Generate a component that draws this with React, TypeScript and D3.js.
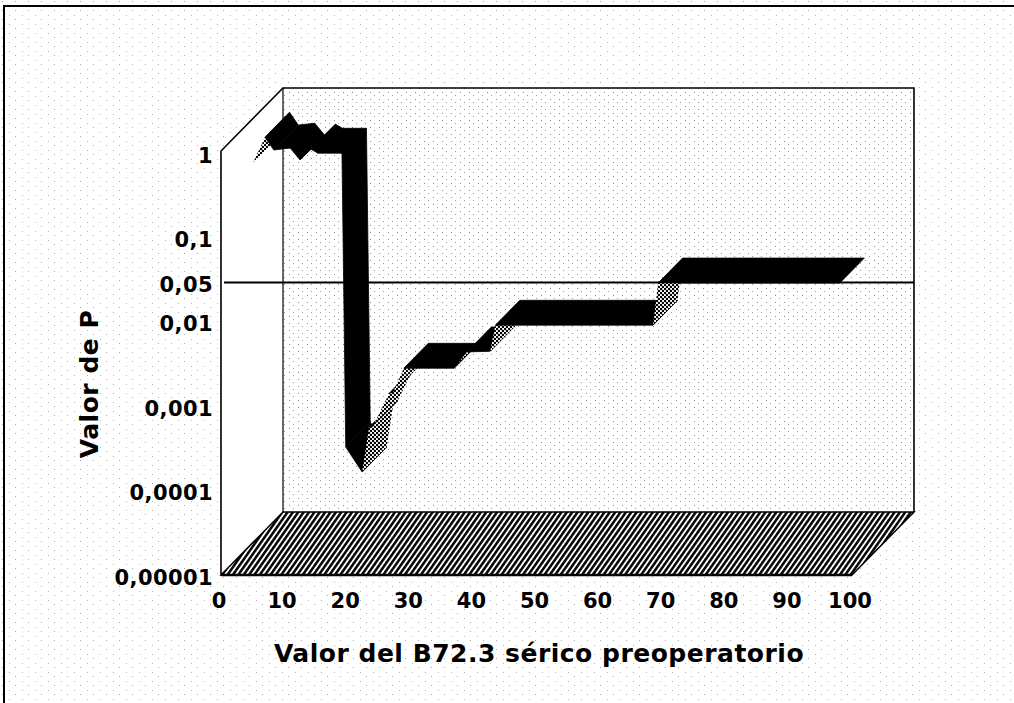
import { useEffect, useRef } from "react";
import * as d3 from "d3";

// B72.3 cut-off (x) and P value (y) read along the ribbon
const B72 = [2.5, 4.4, 5.8, 8.4, 9.95, 11.7, 12.8, 16.6, 17.2, 19.8, 20.9, 21.5, 24.1, 24.7, 26.4, 34.4, 36.4, 40.1, 40.9, 65.9, 66.7, 95.5];
const PVAL = [0.46, 0.93, 0.655, 0.69, 0.5, 0.67, 0.6, 0.6, 0.000198, 0.0001, 0.00034, 0.00035, 0.00086, 0.00088, 0.0017, 0.0017, 0.00265, 0.0027, 0.0055, 0.0055, 0.0174, 0.0174];

const X_TICKS = [0, 10, 20, 30, 40, 50, 60, 70, 80, 90, 100];
const Y_TICKS = [1, 0.1, 0.01, 0.001, 0.0001, 0.00001];
const Y_TICK_LABELS = ["1", "0,1", "0,01", "0,001", "0,0001", "0,00001"];
const REF_P = 0.03;
const REF_LABEL = "0,05";
const X_TITLE = "Valor del B72.3 sérico preoperatorio";
const Y_TITLE = "Valor de P";

const W = 1014, H = 703;
const FONT = "'DejaVu Sans', Verdana, sans-serif";

export default function App() {
  const ref = useRef<SVGSVGElement>(null);

  useEffect(() => {
    const svg = d3.select(ref.current);
    svg.selectAll("*").remove();

    // front plane of the 3D box + depth offset
    const L = 221, R = 852, T = 151, B = 575;
    const D: [number, number] = [62, -63];
    const x = d3.scaleLinear().domain([0, 100]).range([218, 849]);
    const y = d3.scaleLog().domain([1e-5, 1]).range([576, 154]);

    // ribbon sits between 31% and 70.5% of the depth
    const F: [number, number] = [D[0] * 0.31, D[1] * 0.31];
    const RW: [number, number] = [D[0] * 0.395, D[1] * 0.395];

    const defs = svg.append("defs");
    const bg = defs.append("pattern").attr("id", "bgDots").attr("patternUnits", "userSpaceOnUse").attr("width", 13).attr("height", 9);
    bg.append("rect").attr("width", 13).attr("height", 9).attr("fill", "#fff");
    bg.append("rect").attr("x", 2).attr("y", 1).attr("width", 1).attr("height", 1).attr("fill", "#aaa");
    bg.append("rect").attr("x", 9).attr("y", 6).attr("width", 1).attr("height", 1).attr("fill", "#bbb");

    const wd = defs.append("pattern").attr("id", "wallDots").attr("patternUnits", "userSpaceOnUse").attr("width", 9).attr("height", 7);
    wd.append("rect").attr("width", 9).attr("height", 7).attr("fill", "#fff");
    wd.append("rect").attr("x", 1).attr("y", 1).attr("width", 1).attr("height", 1).attr("fill", "#888");
    wd.append("rect").attr("x", 5).attr("y", 4).attr("width", 1).attr("height", 1).attr("fill", "#999");

    const hatch = defs.append("pattern").attr("id", "hatch").attr("patternUnits", "userSpaceOnUse")
      .attr("width", 4.4).attr("height", 10).attr("patternTransform", "rotate(35)");
    hatch.append("rect").attr("width", 4.4).attr("height", 10).attr("fill", "#fff");
    hatch.append("line").attr("x1", 1.3).attr("x2", 1.3).attr("y1", 0).attr("y2", 10).attr("stroke", "#000").attr("stroke-width", 2.5);

    const stip = defs.append("pattern").attr("id", "stip").attr("patternUnits", "userSpaceOnUse").attr("width", 4).attr("height", 4);
    stip.append("rect").attr("width", 4).attr("height", 4).attr("fill", "#fff");
    stip.append("circle").attr("cx", 1).attr("cy", 1).attr("r", 1.25).attr("fill", "#000");
    stip.append("circle").attr("cx", 3).attr("cy", 3).attr("r", 1.25).attr("fill", "#000");

    // page background + frame
    svg.append("rect").attr("width", W).attr("height", H).attr("fill", "url(#bgDots)");
    svg.append("path").attr("d", `M4,${H}L4,6L${W},6`).attr("fill", "none").attr("stroke", "#000").attr("stroke-width", 2);

    // walls
    const BL = L + D[0], BR = R + D[0], BT = T + D[1], BB = B + D[1];
    svg.append("rect").attr("x", BL).attr("y", BT).attr("width", BR - BL).attr("height", BB - BT).attr("fill", "url(#wallDots)");
    svg.append("path").attr("d", `M${L},${T}L${BL},${BT}L${BL},${BB}L${L},${B}Z`).attr("fill", "#fff");
    svg.append("path").attr("d", `M${L},${B}L${BL},${BB}L${BR},${BB}L${R},${B}Z`)
      .attr("fill", "url(#hatch)").attr("stroke", "#000").attr("stroke-width", 1.5);
    svg.append("line").attr("x1", L).attr("x2", R).attr("y1", B).attr("y2", B).attr("stroke", "#000").attr("stroke-width", 2.5);

    const wall = svg.append("g").attr("fill", "none").attr("stroke", "#000").attr("stroke-width", 1.6);
    wall.append("path").attr("d", `M${L},${B}L${L},${T}L${BL},${BT}L${BR},${BT}L${BR},${BB}`);
    wall.append("line").attr("x1", BL).attr("x2", BL).attr("y1", BT).attr("y2", BB).attr("stroke-width", 1.2);

    // reference line
    svg.append("line").attr("x1", L + 3).attr("x2", BR).attr("y1", y(REF_P)).attr("y2", y(REF_P))
      .attr("stroke", "#000").attr("stroke-width", 2);

    // ribbon: one face per segment, dark when its top is seen, stippled when its front is seen
    const pts = B72.map((v, i) => [x(v) + F[0], y(PVAL[i]) + F[1]] as [number, number]);
    const line = d3.line();
    const rib = svg.append("g");
    for (let i = 0; i < pts.length - 1; i++) {
      const a = pts[i], b = pts[i + 1];
      const quad: [number, number][] = [a, b, [b[0] + RW[0], b[1] + RW[1]], [a[0] + RW[0], a[1] + RW[1]]];
      const cross = (b[0] - a[0]) * RW[1] - (b[1] - a[1]) * RW[0];
      const top = cross < 0;
      rib.append("path").attr("d", line(quad) + "Z")
        .attr("fill", top ? "#000" : "url(#stip)")
        .attr("stroke", top ? "#000" : "none").attr("stroke-width", 0.8).attr("stroke-linejoin", "round");
    }

    // y tick labels
    const yl = svg.append("g").attr("font-family", FONT).attr("font-weight", "bold").attr("font-size", 21)
      .attr("letter-spacing", 0.4).attr("text-anchor", "end").attr("fill", "#000");
    Y_TICKS.forEach((t, i) => {
      yl.append("text").attr("x", 213).attr("y", y(t) + 1).attr("dy", "0.36em").text(Y_TICK_LABELS[i]);
    });
    yl.append("text").attr("x", 213).attr("y", y(REF_P) + 2).attr("dy", "0.36em").text(REF_LABEL);

    // x tick labels
    const xl = svg.append("g").attr("font-family", FONT).attr("font-weight", "bold").attr("font-size", 21)
      .attr("text-anchor", "middle").attr("fill", "#000");
    X_TICKS.forEach(t => {
      xl.append("text").attr("x", x(t) + 1).attr("y", 600).attr("dy", "0.36em").text(t);
    });

    // titles
    svg.append("text").attr("x", 539).attr("y", 653).attr("dy", "0.36em").attr("text-anchor", "middle")
      .attr("font-family", FONT).attr("font-weight", "bold").attr("font-size", 25).attr("letter-spacing", 0.5)
      .text(X_TITLE);
    svg.append("text").attr("transform", "translate(98,384) rotate(-90)").attr("text-anchor", "middle")
      .attr("font-family", FONT).attr("font-weight", "bold").attr("font-size", 25).attr("letter-spacing", 0.5)
      .text(Y_TITLE);
  }, []);

  return (
    <svg ref={ref} width={W} height={H} style={{ position: "absolute", left: 0, top: 0, display: "block" }} />
  );
}
